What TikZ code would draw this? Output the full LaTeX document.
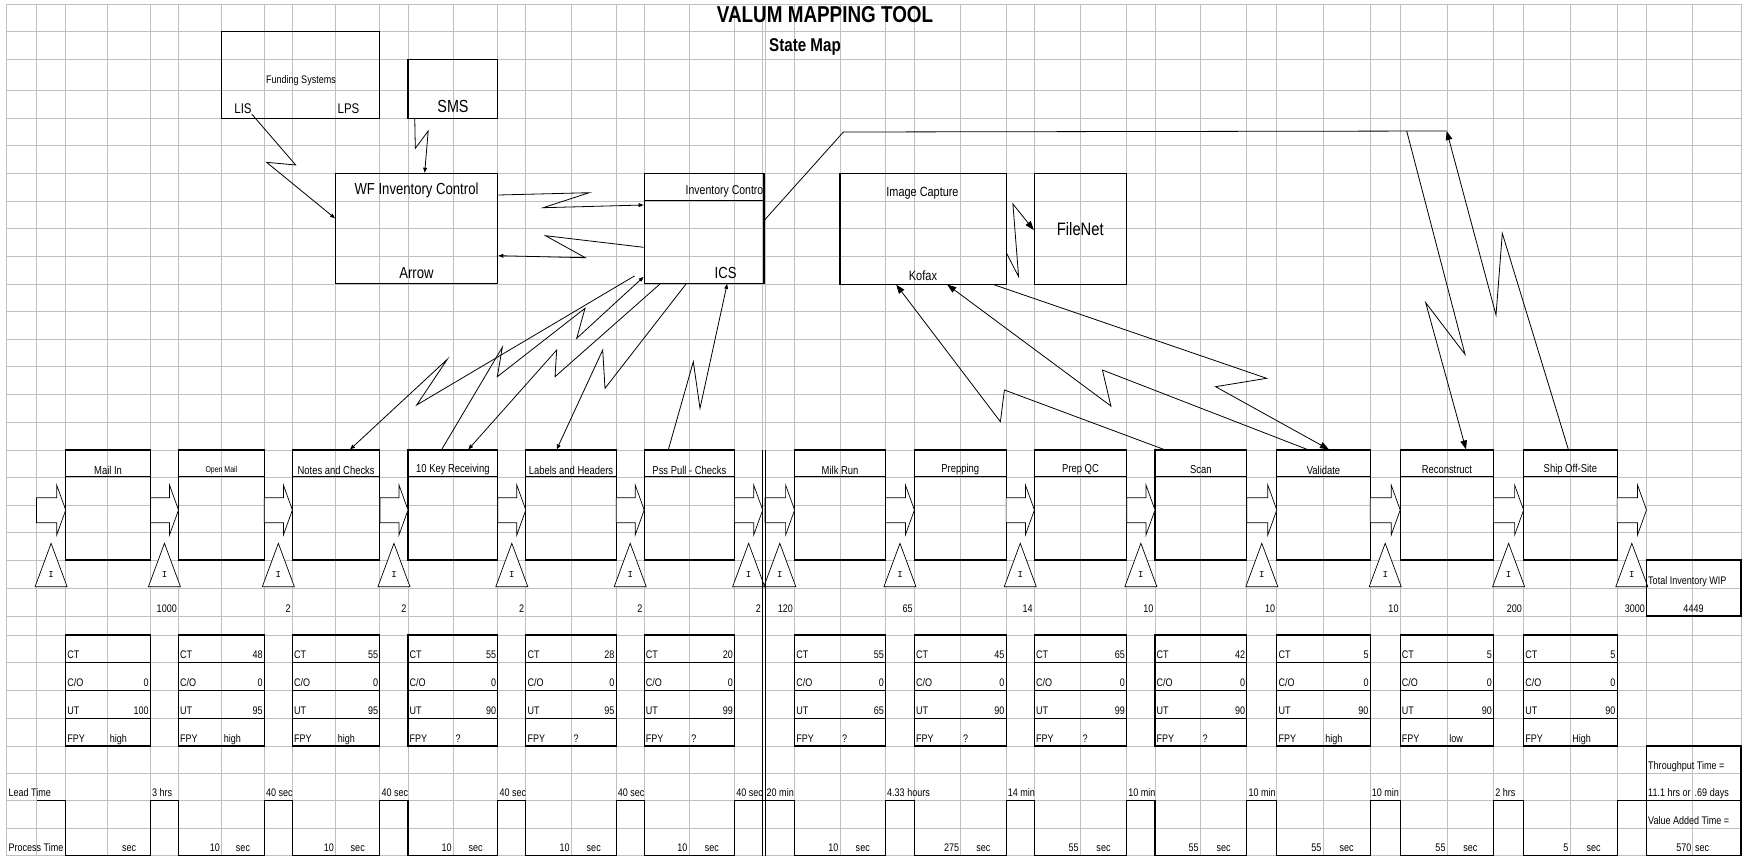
\documentclass[tikz,border=0pt]{standalone}
\usepackage{fontspec}
\setmainfont{Liberation Sans}[FakeStretch=0.82]
\setmonofont{Liberation Mono}
\usepackage{tikz}
\usetikzlibrary{positioning,arrows.meta,calc}
\definecolor{gridgray}{RGB}{192,192,192}
\tikzset{
  grid-line/.style={draw=gridgray, line width=0.9pt},
  box-line/.style={draw=black, line width=1.1pt},
  process-box/.style={draw=black, line width=1.1pt, minimum height=110pt, inner sep=0pt},
  data-box/.style={draw=black, line width=1.1pt, minimum height=111pt, inner sep=0pt},
  system-box/.style={draw=black, line width=1.1pt, inner sep=0pt},
  cell-text/.style={font=\fontsize{11}{13}\selectfont, inner sep=0pt},
  box-text/.style={inner sep=0pt},
  push-arrow/.style={draw=black, line width=0.7pt, fill=white},
  inv-tri/.style={draw=black, line width=0.7pt, fill=white},
  info-arrow/.style={-{Triangle[length=5pt,width=3.8pt]}, draw=black, line width=0.8pt},
  info-arrow-big/.style={-{Triangle[length=9pt,width=6.5pt]}, draw=black, line width=0.8pt},
  info-line/.style={draw=black, line width=0.8pt},
  wave-line/.style={draw=black, line width=1.1pt}
}

\begin{document}
\begin{tikzpicture}[x=1pt,y=-1pt]
\useasboundingbox (0,0) rectangle (1748,857);

\foreach \gx in {6.7,36.5,65.7,107.7,150.4,178.5,221.7,264.3,292.4,335.6,379.9,408,453.4,497.8,525.8,571.3,616.2,644.2,689.1,734.6,762.7,765,794.6,840,885.5,914.4,960.8,1006.1,1034.4,1080.3,1126.7,1155,1200.3,1246.8,1276.8,1323.2,1370.2,1400.2,1447.2,1493.6,1523.6,1570.1,1617.1,1646.5,1692.9,1741}
  \draw[grid-line] (\gx,4) -- (\gx,855.7);
\foreach \gy in {4,31.7,59.3,90.7,118.3,145.7,173.3,201,228.7,256.7,284,311.7,339.3,366.7,394.3,422.3,450,477.3,505,532.7,560,588.3,616,635,662.7,690.7,718.3,746,773.3,800.7,828.3,855.7}
  \draw[grid-line] (6.7,\gy) -- (1741,\gy);

\node[font=\bfseries\fontsize{23}{26}\selectfont, inner sep=0pt] (title) at (825,15) {VALUM MAPPING TOOL};
\node[font=\bfseries\fontsize{18.5}{21}\selectfont, inner sep=0pt] (subtitle) at (805,46.5) {State Map};

\node[system-box, minimum width=158.2pt, minimum height=86.6pt] (funding) at (300.8,75) {};
\node[box-text, font=\fontsize{11}{13}\selectfont] (fundlabel) at (301,81) {Funding Systems};
\node[box-text, font=\fontsize{14}{16}\selectfont] (lis) at (243,109) {LIS};
\node[box-text, font=\fontsize{14}{16}\selectfont] (lps) at (348.5,109) {LPS};
\node[system-box, minimum width=89.8pt, minimum height=59pt] (sms) at (452.9,88.8) {};
\node[box-text, font=\fontsize{17.5}{20}\selectfont] (smslabel) at (453,106) {SMS};
\node[system-box, minimum width=162.2pt, minimum height=110pt] (wf) at (416.7,228.3) {};
\node[box-text, font=\fontsize{16}{18}\selectfont] (wflabel) at (416.5,190.7) {WF Inventory Control};
\node[box-text, font=\fontsize{16}{18}\selectfont] (arrowlabel) at (416.5,272.7) {Arrow};
\node[system-box, minimum width=119.8pt, minimum height=110pt] (ics) at (704.1,228.3) {};
\draw[box-line] ([yshift=-27.7pt]ics.north west) -- ([yshift=-27.7pt]ics.north east);
\node[box-text, font=\fontsize{12.8}{15}\selectfont, anchor=east] (icshead) at (763.5,191.7) {Inventory Contro};
\node[box-text, font=\fontsize{16}{18}\selectfont] (icslabel) at (725.6,272.7) {ICS};
\node[system-box, minimum width=166.1pt, minimum height=110.7pt] (imgcap) at (923,228.7) {};
\node[box-text, font=\fontsize{13.3}{15}\selectfont] (imglabel) at (922.5,193.3) {Image Capture};
\node[box-text, font=\fontsize{13.5}{15}\selectfont] (kofax) at (923,276) {Kofax};
\node[system-box, minimum width=92.3pt, minimum height=110.7pt] (filenet) at (1080.5,228.7) {};
\node[box-text, font=\fontsize{18}{20}\selectfont] (filenetlabel) at (1080.3,229.3) {FileNet};

\foreach \l/\m/\r/\nm/\hs/\ct/\co/\ut/\fpy/\pt [count=\i] in {
  65.7/107.7/150.4/Mail In/11.5/{}/0/100/high/{},
  178.5/221.7/264.3/Open Mail/8.5/48/0/95/high/10,
  292.4/335.6/379.9/Notes and Checks/11.5/55/0/95/high/10,
  408/453.4/497.8/10 Key Receiving/11.5/55/0/90/?/10,
  525.8/571.3/616.2/Labels and Headers/11.5/28/0/95/?/10,
  644.2/689.1/734.6/Pss Pull - Checks/11.5/20/0/99/?/10,
  794.6/840/885.5/Milk Run/11.5/55/0/65/?/10,
  914.4/960.8/1006.1/Prepping/11.5/45/0/90/?/275,
  1034.4/1080.3/1126.7/Prep QC/11.5/65/0/99/?/55,
  1155/1200.3/1246.8/Scan/11.5/42/0/90/?/55,
  1276.8/1323.2/1370.2/Validate/11.5/5/0/90/high/55,
  1400.2/1447.2/1493.6/Reconstruct/11.5/5/0/90/low/55,
  1523.6/1570.1/1617.1/Ship Off-Site/11.5/5/0/90/High/5%
}{
  \pgfmathsetmacro{\cx}{(\l+\r)/2}
  \pgfmathsetmacro{\w}{\r-\l}
  \node[process-box, minimum width=\w pt] (p\i) at (\cx,505) {};
  \draw[box-line] ([yshift=-27.3pt]p\i.north west) -- ([yshift=-27.3pt]p\i.north east);
  \node[box-text, font=\fontsize{\hs}{13}\selectfont] (h\i) at (\cx,470) {\nm};
  \node[data-box, minimum width=\w pt] (d\i) at (\cx,690.5) {};
  \foreach \ry in {662.7,690.7,718.3}
    \draw[box-line] (\l,\ry) -- (\r,\ry);
  \node[cell-text, anchor=base west] (ct\i) at (\l+1.5,658.7) {CT};
  \node[cell-text, anchor=base east] (ctv\i) at (\r-1.5,658.7) {\ct};
  \node[cell-text, anchor=base west] (co\i) at (\l+1.5,686.7) {C/O};
  \node[cell-text, anchor=base east] (cov\i) at (\r-1.5,686.7) {\co};
  \node[cell-text, anchor=base west] (ut\i) at (\l+1.5,714.3) {UT};
  \node[cell-text, anchor=base east] (utv\i) at (\r-1.5,714.3) {\ut};
  \node[cell-text, anchor=base west] (fp\i) at (\l+1.5,742) {FPY};
  \node[cell-text, anchor=base west] (fpv\i) at (\m+2,742) {\fpy};
  \node[cell-text, anchor=base east] (ptv\i) at (\m-1.5,851.7) {\pt};
  \node[cell-text, anchor=base] (pts\i) at ({(\m+\r)/2},851.7) {sec};
}

\foreach \a/\b/\q/\lt [count=\j] in {
  36.5/65.7/{}/{},
  150.4/178.5/1000/3 hrs,
  264.3/292.4/2/40 sec,
  379.9/408/2/40 sec,
  497.8/525.8/2/40 sec,
  616.2/644.2/2/40 sec,
  734.6/762.7/2/40 sec,
  765/794.6/120/20 min,
  885.5/914.4/65/4.33 hours,
  1006.1/1034.4/14/14 min,
  1126.7/1155/10/10 min,
  1246.8/1276.8/10/10 min,
  1370.2/1400.2/10/10 min,
  1493.6/1523.6/200/2 hrs,
  1617.1/1646.5/3000/{}%
}{
  \pgfmathsetmacro{\c}{(\a+\b)/2}
  \draw[push-arrow] (\a,497.7) -- (\b-9,497.7) -- (\b-9,485) -- (\b,510) -- (\b-9,535) -- (\b-9,522.7) -- (\a,522.7) -- cycle;
  \draw[inv-tri] (\c-16,586.7) -- (\c,543.3) -- (\c+16,586.7) -- cycle;
  \node[font=\ttfamily\fontsize{9}{10}\selectfont, inner sep=0pt] (inv\j) at (\c,575) {I};
  \node[cell-text, anchor=base east] (q\j) at (\b-1.5,612) {\q};
  \node[cell-text, anchor=base west] (lt\j) at (\a+1.5,796.7) {\lt};
}

\draw[box-line, line width=1pt] (762.7,450) -- (762.7,855.7);
\draw[box-line, line width=1pt] (765,450) -- (765,855.7);

\draw[wave-line] (36.5,800.7)
  \foreach \l/\r in {65.7/150.4,178.5/264.3,292.4/379.9,408/497.8,525.8/616.2,644.2/734.6,794.6/885.5,914.4/1006.1,1034.4/1126.7,1155/1246.8,1276.8/1370.2,1400.2/1493.6,1523.6/1617.1}
  { -- (\l,800.7) -- (\l,855.7) -- (\r,855.7) -- (\r,800.7) } -- (1646.5,800.7);

\node[cell-text, anchor=base west] (leadlabel) at (8.4,796.7) {Lead Time};
\node[cell-text, anchor=base west] (proclabel) at (8.4,851.7) {Process Time};

\node[system-box, minimum width=94.5pt, minimum height=56pt] (wip) at (1693.75,588) {};
\node[cell-text, anchor=base west] (wiplabel) at (1648,584.3) {Total Inventory WIP};
\node[cell-text, anchor=base] (wipval) at (1693.5,612) {4449};
\node[system-box, minimum width=94.5pt, minimum height=54.7pt] (tput) at (1693.75,773.35) {};
\node[cell-text, anchor=base west] (tputlabel) at (1648,769.3) {Throughput Time =};
\node[cell-text, anchor=base west] (tputhrs) at (1648,796.7) {11.1 hrs or};
\node[cell-text, anchor=base west] (tputdays) at (1694.5,796.7) {.69 days};
\node[system-box, minimum width=94.5pt, minimum height=55pt] (vat) at (1693.75,828.2) {};
\node[cell-text, anchor=base west] (vatlabel) at (1648,824.3) {Value Added Time =};
\node[cell-text, anchor=base east] (vatval) at (1691.5,851.7) {570};
\node[cell-text, anchor=base west] (vatsec) at (1695,851.7) {sec};

\coordinate (topsplit) at (1406.7,131);
\coordinate (topend) at (1446.7,131);

\draw[info-arrow] (lis.south east) -- (295.7,165) -- (266.6,162.3) -- ([yshift=10pt]wf.west);
\draw[info-arrow] ([xshift=7.3pt]sms.south west) -- (415.3,148.3) -- (428.2,131) -- ([xshift=8pt]wf.north);
\draw[info-arrow] ([yshift=33.3pt]wf.east) -- (589.2,192.7) -- (543.2,207.7) -- ([yshift=23.3pt]ics.west);
\draw[info-arrow] ([yshift=-19pt]ics.west) -- (545.5,235.7) -- (585.3,257.7) -- ([yshift=-27.4pt]wf.east);
\draw[info-line] ([yshift=8.3pt]ics.east) -- (843.4,132) -- (topend);

\draw[info-arrow] ([shift={(-9pt,8pt)}]ics.south west) -- (416.7,405) -- (447.3,359.3) -- ([xshift=13.9pt]p3.north);
\draw[info-arrow] ([xshift=-11.2pt]p4.north) -- (502.3,347.3) -- (497.3,376.7) -- (585,308.3) -- (576.7,338.3) -- ([yshift=7pt]ics.south west);
\draw[info-arrow] ([xshift=16.5pt]ics.south west) -- (555,376.7) -- (556.7,350) -- ([xshift=15.4pt]p4.north);
\draw[info-arrow] ([xshift=42.5pt]ics.south west) -- (605,388.3) -- (602.7,350) -- ([xshift=-14.3pt]p5.north);
\draw[info-arrow] ([xshift=-21pt]p6.north) -- (693.3,361.7) -- (700,408.3) -- ([xshift=83.5pt]ics.south west);

\draw[info-arrow-big] ([yshift=-24.6pt]imgcap.east) -- (1018.6,276.7) -- (1012.9,204) -- ([yshift=-1.3pt]filenet.west);
\draw[info-arrow-big] ([xshift=-36.9pt]p10.north) -- (1004.4,390) -- (1000.4,421.7) -- ([xshift=56.8pt]imgcap.south west);
\draw[info-arrow-big] ([xshift=-16.2pt]p11.north) -- (1102.4,370) -- (1110.9,406) -- ([xshift=107.8pt]imgcap.south west);
\draw[info-arrow-big] ([xshift=-13pt]imgcap.south east) -- (1266.6,378.3) -- (1215.6,386.7) -- ([xshift=5.4pt]p11.north);

\draw[info-arrow-big] (topsplit) -- (1465,354.3) -- (1425.7,302.7) -- ([xshift=19.1pt]p12.north);
\draw[info-arrow-big] ([xshift=-2pt]p13.north) -- (1502.3,233.3) -- (1496,315) -- (topend);
\end{tikzpicture}
\end{document}
